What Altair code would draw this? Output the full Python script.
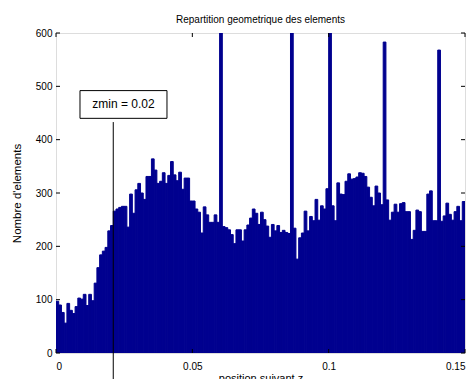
import altair as alt
import pandas as pd

# ---- data ----
bin_width = 0.001
counts = [
    97, 90, 76, 56, 93, 80, 74, 87, 103, 101, 110, 89, 110, 98, 131, 160, 184, 191, 198, 229, 239,
    266, 270, 273, 275, 275, 236, 298, 262, 306, 318, 300, 288,
    331, 331, 364, 343, 318, 322, 338, 318, 333, 359, 334, 323, 339, 307, 328, 328, 285, 285, 270, 264,
    225, 274, 259, 245, 245, 259, 245,
    900,
    237, 235, 231, 222, 205, 231, 231, 210, 231, 240,
    253, 270, 262, 241, 264, 250, 238, 217, 241, 229, 239, 226, 230, 226, 224,
    900,
    234, 176, 216, 225, 266, 229, 256, 248, 288, 249, 276, 270, 308,
    900,
    276, 248, 319, 298, 297, 322, 336, 326, 327, 330, 338, 337, 331, 311, 292, 276, 313, 300, 278,
    583,
    287, 249, 264, 279, 264, 280, 282, 265, 265, 213, 230, 268, 265, 228, 228, 298, 304, 248, 248,
    568,
    247, 257, 281, 260, 249, 265, 275, 248, 284,
]
x_ticks = [0, 0.05, 0.1, 0.15]
y_ticks = [0, 100, 200, 300, 400, 500, 600]
zmin_line = 0.021
zmin_text = "zmin = 0.02"
title_text = "Repartition geometrique des elements"
x_title = "position suivant z"
y_title = "Nombre d'elements"

# annotation geometry (data units)
line_top, line_bottom = 433, -90
box_x0, box_x1, box_y0, box_y1 = 0.0088, 0.0407, 440, 492

W, H = 409, 320
FONT = "Liberation Sans"
NAVY = "#00008f"

bars_df = pd.DataFrame({
    "z0": [i * bin_width for i in range(len(counts))],
    "z1": [(i + 1) * bin_width for i in range(len(counts))],
    "n": counts,
})

xs = alt.Scale(domain=[0, 0.15], nice=False, zero=False)
ys = alt.Scale(domain=[0, 600], nice=False)

x_axis = alt.Axis(values=x_ticks, format="~g", title=x_title, ticks=False, domain=False, grid=False,
                  labelPadding=8, titlePadding=1, titleFontWeight="normal", titleFont=FONT, titleFontSize=11)
y_axis = alt.Axis(values=y_ticks, format="d", title=y_title, ticks=False, domain=False, grid=False,
                  labelPadding=4, titlePadding=13, titleFontWeight="normal", titleFont=FONT, titleFontSize=11.5)

bars = alt.Chart(bars_df).mark_rect(color=NAVY, stroke=NAVY, strokeWidth=1, clip=True).encode(
    x=alt.X("z0:Q", scale=xs, axis=x_axis),
    x2="z1:Q",
    y=alt.Y("n:Q", scale=ys, axis=y_axis),
    y2=alt.datum(0),
)

line_df = pd.DataFrame({"z": [zmin_line], "a": [line_top], "b": [line_bottom]})
zline = alt.Chart(line_df).mark_rule(color="black", strokeWidth=1).encode(
    x=alt.X("z:Q", scale=xs), y=alt.Y("a:Q", scale=ys), y2="b:Q"
)

box_df = pd.DataFrame({"x0": [box_x0], "x1": [box_x1], "y0": [box_y0], "y1": [box_y1],
                       "xc": [(box_x0 + box_x1) / 2], "yc": [(box_y0 + box_y1) / 2], "t": [zmin_text]})
box = alt.Chart(box_df).mark_rect(fill="white", stroke="black", strokeWidth=1).encode(
    x=alt.X("x0:Q", scale=xs), x2="x1:Q", y=alt.Y("y0:Q", scale=ys), y2="y1:Q"
)
box_text = alt.Chart(box_df).mark_text(font=FONT, fontSize=12, color="black", baseline="middle", align="center").encode(
    x=alt.X("xc:Q", scale=xs), y=alt.Y("yc:Q", scale=ys), text="t:N"
)

xt_df = pd.DataFrame({"v": x_ticks})
yt_df = pd.DataFrame({"v": y_ticks})
tick_style = dict(color="black", strokeWidth=1)
xt_bottom = alt.Chart(xt_df).mark_rule(**tick_style).encode(
    x=alt.X("v:Q", scale=xs), y=alt.value(H), y2=alt.value(H - 4))
xt_top = alt.Chart(xt_df).mark_rule(**tick_style).encode(
    x=alt.X("v:Q", scale=xs), y=alt.value(0), y2=alt.value(4))
yt_left = alt.Chart(yt_df).mark_rule(**tick_style).encode(
    y=alt.Y("v:Q", scale=ys), x=alt.value(0), x2=alt.value(4))
yt_right = alt.Chart(yt_df).mark_rule(**tick_style).encode(
    y=alt.Y("v:Q", scale=ys), x=alt.value(W), x2=alt.value(W - 4))

chart = alt.layer(bars, zline, box, box_text, xt_bottom, xt_top, yt_left, yt_right).properties(
    width=W, height=H,
    title=alt.TitleParams(title_text, font=FONT, fontSize=10, fontWeight="normal", color="black",
                          anchor="middle", offset=3),
    autosize=alt.AutoSizeParams(type="none"),
    padding={"left": 48, "top": 25, "right": 2, "bottom": 26},
).configure_view(stroke="black", strokeWidth=1).configure_axis(
    labelFont=FONT, labelFontSize=11, labelColor="black",
).configure(background="white")

chart.save("out.html", embed_options={"renderer": "svg", "actions": False})
